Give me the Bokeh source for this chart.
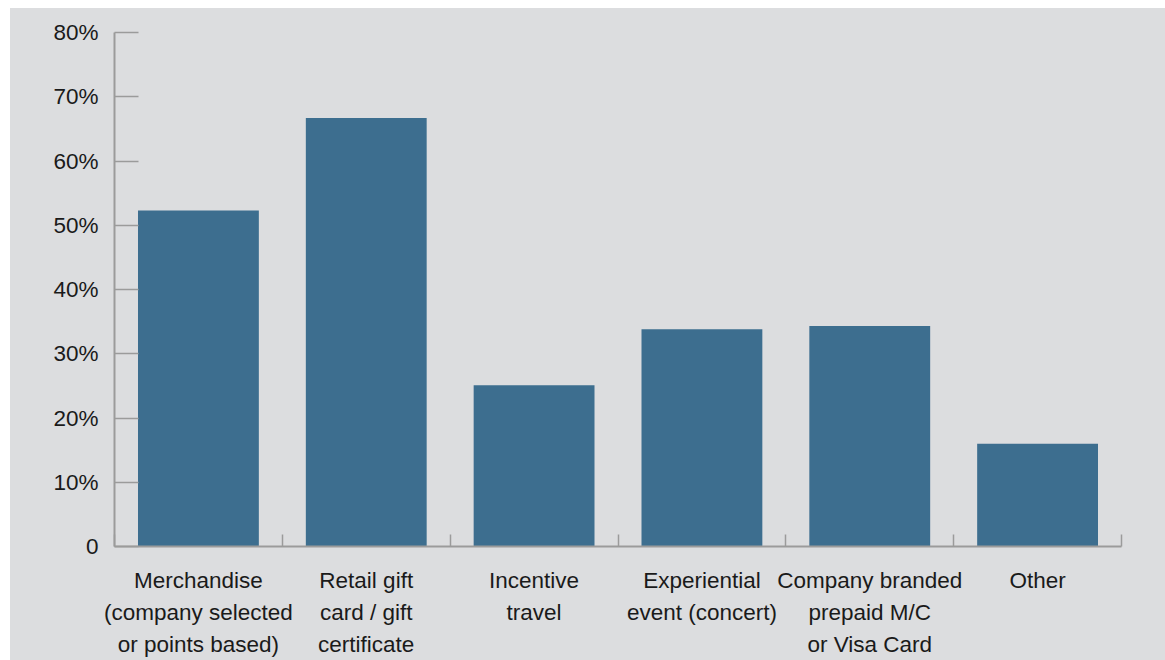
from bokeh.plotting import figure
from bokeh.models import ColumnDataSource, FixedTicker, Range1d, Spacer
from bokeh.layouts import column, row
from bokeh.embed import file_html
from bokeh.resources import INLINE

# Reward types and share of respondents using each (%)
categories = [
    "Merchandise\n(company selected\nor points based)",
    "Retail gift\ncard / gift\ncertificate",
    "Incentive\ntravel",
    "Experiential\nevent (concert)",
    "Company branded\nprepaid M/C\nor Visa Card",
    "Other",
]
shares = [52.3, 66.7, 25.1, 33.8, 34.3, 16.0]
y_ticks = [0, 10, 20, 30, 40, 50, 60, 70, 80]
y_tick_labels = ["0", "10%", "20%", "30%", "40%", "50%", "60%", "70%", "80%"]

BG = "#dcdddf"
BAR = "#3d6e8f"
AXIS = "#9b9b9b"
FONT = "Liberation Sans"

centers = [i + 0.5 for i in range(len(categories))]
src = ColumnDataSource(dict(x=centers, top=shares))

p = figure(
    width=1155, height=652,
    x_range=Range1d(0, len(categories)), y_range=Range1d(0, 80),
    output_backend="svg", toolbar_location=None,
    background_fill_alpha=0, border_fill_alpha=0,
    min_border_left=104, min_border_right=44,
    min_border_top=24, min_border_bottom=114,
)
# one solid panel colour behind frame and margins alike
p.styles = {"background-color": BG}
p.outline_line_color = None
p.grid.visible = False

p.vbar(x="x", top="top", width=0.72, bottom=0, source=src,
       fill_color=BAR, line_color=None)

# Y axis: percentage ticks pointing inward
ya = p.yaxis[0]
ya.ticker = FixedTicker(ticks=y_ticks)
ya.major_label_overrides = {t: s for t, s in zip(y_ticks, y_tick_labels)}
ya.axis_line_color = AXIS
ya.axis_line_width = 2
ya.major_tick_line_color = AXIS
ya.major_tick_line_width = 1.5
ya.major_tick_in = 24
ya.major_tick_out = 0
ya.minor_tick_line_color = None
ya.major_label_standoff = 16
ya.major_label_text_font = FONT
ya.major_label_text_font_size = "22.5px"
ya.major_label_text_color = "#1a1a1a"

# X axis: labels at bar centres, short ticks at category boundaries
xa = p.xaxis[0]
xa.ticker = FixedTicker(ticks=centers, minor_ticks=list(range(len(categories) + 1)))
xa.major_label_overrides = {c: lab for c, lab in zip(centers, categories)}
xa.axis_line_color = AXIS
xa.axis_line_width = 2
xa.major_tick_line_color = None
xa.major_tick_in = 0
xa.major_tick_out = 0
xa.minor_tick_line_color = AXIS
xa.minor_tick_line_width = 1.5
xa.minor_tick_in = 12
xa.minor_tick_out = 0
xa.major_label_standoff = 21
xa.major_label_text_font = FONT
xa.major_label_text_font_size = "22.5px"
xa.major_label_text_color = "#1a1a1a"
xa.major_label_text_line_height = 1.29

layout = column(Spacer(height=8), row(Spacer(width=10), p))
open("out.html", "w").write(file_html(layout, INLINE))
